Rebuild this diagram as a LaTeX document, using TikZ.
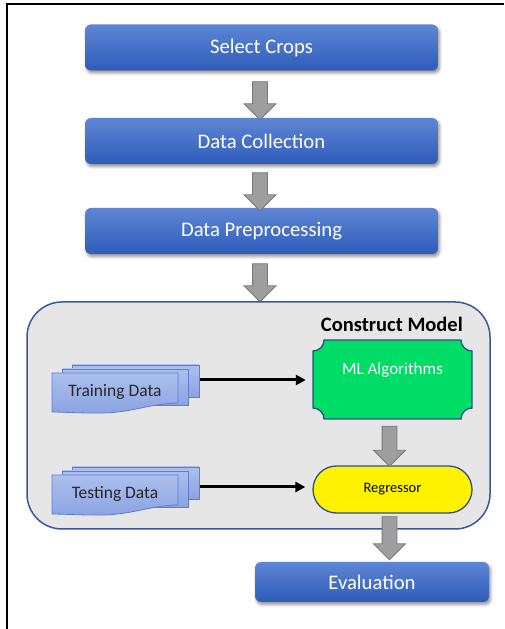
\documentclass[tikz,border=0pt]{standalone}
\usepackage{fontspec}
\setmainfont{Carlito}
\usetikzlibrary{shapes.misc,shapes.arrows,shadows.blur,arrows.meta,calc}
\definecolor{boxtop}{RGB}{94,134,212}
\definecolor{boxbot}{RGB}{46,92,186}
\definecolor{arrfill}{RGB}{158,158,158}
\definecolor{arrline}{RGB}{120,120,120}
\definecolor{contfill}{RGB}{230,230,230}
\definecolor{contline}{RGB}{58,88,150}
\definecolor{mlgreen}{RGB}{0,221,102}
\definecolor{doctop}{RGB}{172,192,238}
\definecolor{docbot}{RGB}{138,163,225}
\definecolor{docline}{RGB}{92,126,208}
\definecolor{shapeline}{RGB}{47,80,140}
\begin{document}
\begin{tikzpicture}[x=1pt,y=1pt,
  stepbox/.style={rectangle, rounded corners=6pt, top color=boxtop, bottom color=boxbot,
    minimum width=353pt, minimum height=46pt, text=white, inner sep=0pt,
    font=\fontsize{20.7}{23}\selectfont,
    blur shadow={shadow xshift=1.5pt, shadow yshift=-2.5pt, shadow blur radius=3pt, shadow opacity=45}},
  blockarr/.style={single arrow, draw=arrline, fill=arrfill, line width=0.8pt,
    inner xsep=0pt, inner ysep=7pt, single arrow head extend=8.5pt,
    rotate=-90, minimum height=#1},
  docstyle/.style={draw=docline, line width=0.8pt, top color=doctop, bottom color=docbot},
  doctext/.style={text=black!85, font=\fontsize{17.5}{20}\selectfont, inner sep=0pt},
  link/.style={-{Triangle[length=10pt,width=10pt]}, line width=3pt, black},
  multidoc/.pic={
    \path[docstyle] (20,8) rectangle (147,-24);
    \path[docstyle] (10,4) rectangle (136,-32);
    \path[docstyle] (0,0) -- (126,0) -- (126,-30)
      .. controls (92,-31) and (80,-41) .. (40,-40)
      .. controls (25,-40) and (10,-39) .. (0,-39) -- cycle;
  }
]
\useasboundingbox (0,0) rectangle (504,629);
% frame
\draw[line width=2pt, black] (7,0) -- (7,624.5) -- (504,624.5);

% top boxes
\node[stepbox] (sel) at (261.5,581.5) {Select Crops};
\node[stepbox] (col) at (261.5,488) {Data Collection};
\node[stepbox] (pre) at (261.5,398) {Data Preprocessing};

\node[blockarr=38pt] (a1) at (260,532) {};
\node[blockarr=38pt] (a2) at (260,441) {};
\node[blockarr=38pt] (a3) at (260,350) {};

% container
\node[rectangle, rounded corners=35pt, draw=contline, fill=contfill, line width=1.5pt,
  minimum width=463pt, minimum height=227pt] (cont) at (258.5,213.5) {};
\node[anchor=east, font=\bfseries\fontsize{20.5}{23}\selectfont, inner sep=0pt] (ctitle) at (463,305) {Construct Model};

% documents
\pic at (52,256) {multidoc};
\pic at (52,154) {multidoc};
\node[doctext] (train) at (115,237) {Training Data};
\node[doctext] (test) at (115,135) {Testing Data};
\coordinate (trainR) at (200,249);
\coordinate (testR) at (200,142);

% ML algorithms plaque
\path[draw=shapeline, fill=mlgreen, line width=1.3pt]
  (324,289) -- (461,289) arc[start angle=180, end angle=270, radius=11]
  -- (472,221) arc[start angle=90, end angle=180, radius=11]
  -- (324,210) arc[start angle=0, end angle=90, radius=11]
  -- (313,278) arc[start angle=270, end angle=360, radius=11] -- cycle;
\node[rectangle, minimum width=159pt, minimum height=79pt, inner sep=0pt] (ml) at (392.5,249.5) {};
\node[text=white, font=\fontsize{17}{20}\selectfont, inner sep=0pt] (mltext) at (392.5,259) {ML Algorithms};

% regressor
\node[rounded rectangle, draw=shapeline, fill=yellow, line width=1.3pt,
  minimum width=159pt, minimum height=47pt, inner sep=0pt,
  font=\fontsize{14.5}{17}\selectfont] (reg) at (392.5,139.5) {Regressor};

% connectors
\draw[link] (trainR) -- ([xshift=-7pt]ml.west |- trainR);
\draw[link] (testR) -- ([xshift=-7pt]reg.west |- testR);

\node[blockarr=40pt] (a4) at (389.5,186.5) {};
\node[blockarr=43pt] (a5) at (389.5,94.5) {};

% evaluation
\node[stepbox, minimum width=234pt, minimum height=40pt] (eval) at (372,47) {Evaluation};
\end{tikzpicture}
\end{document}
